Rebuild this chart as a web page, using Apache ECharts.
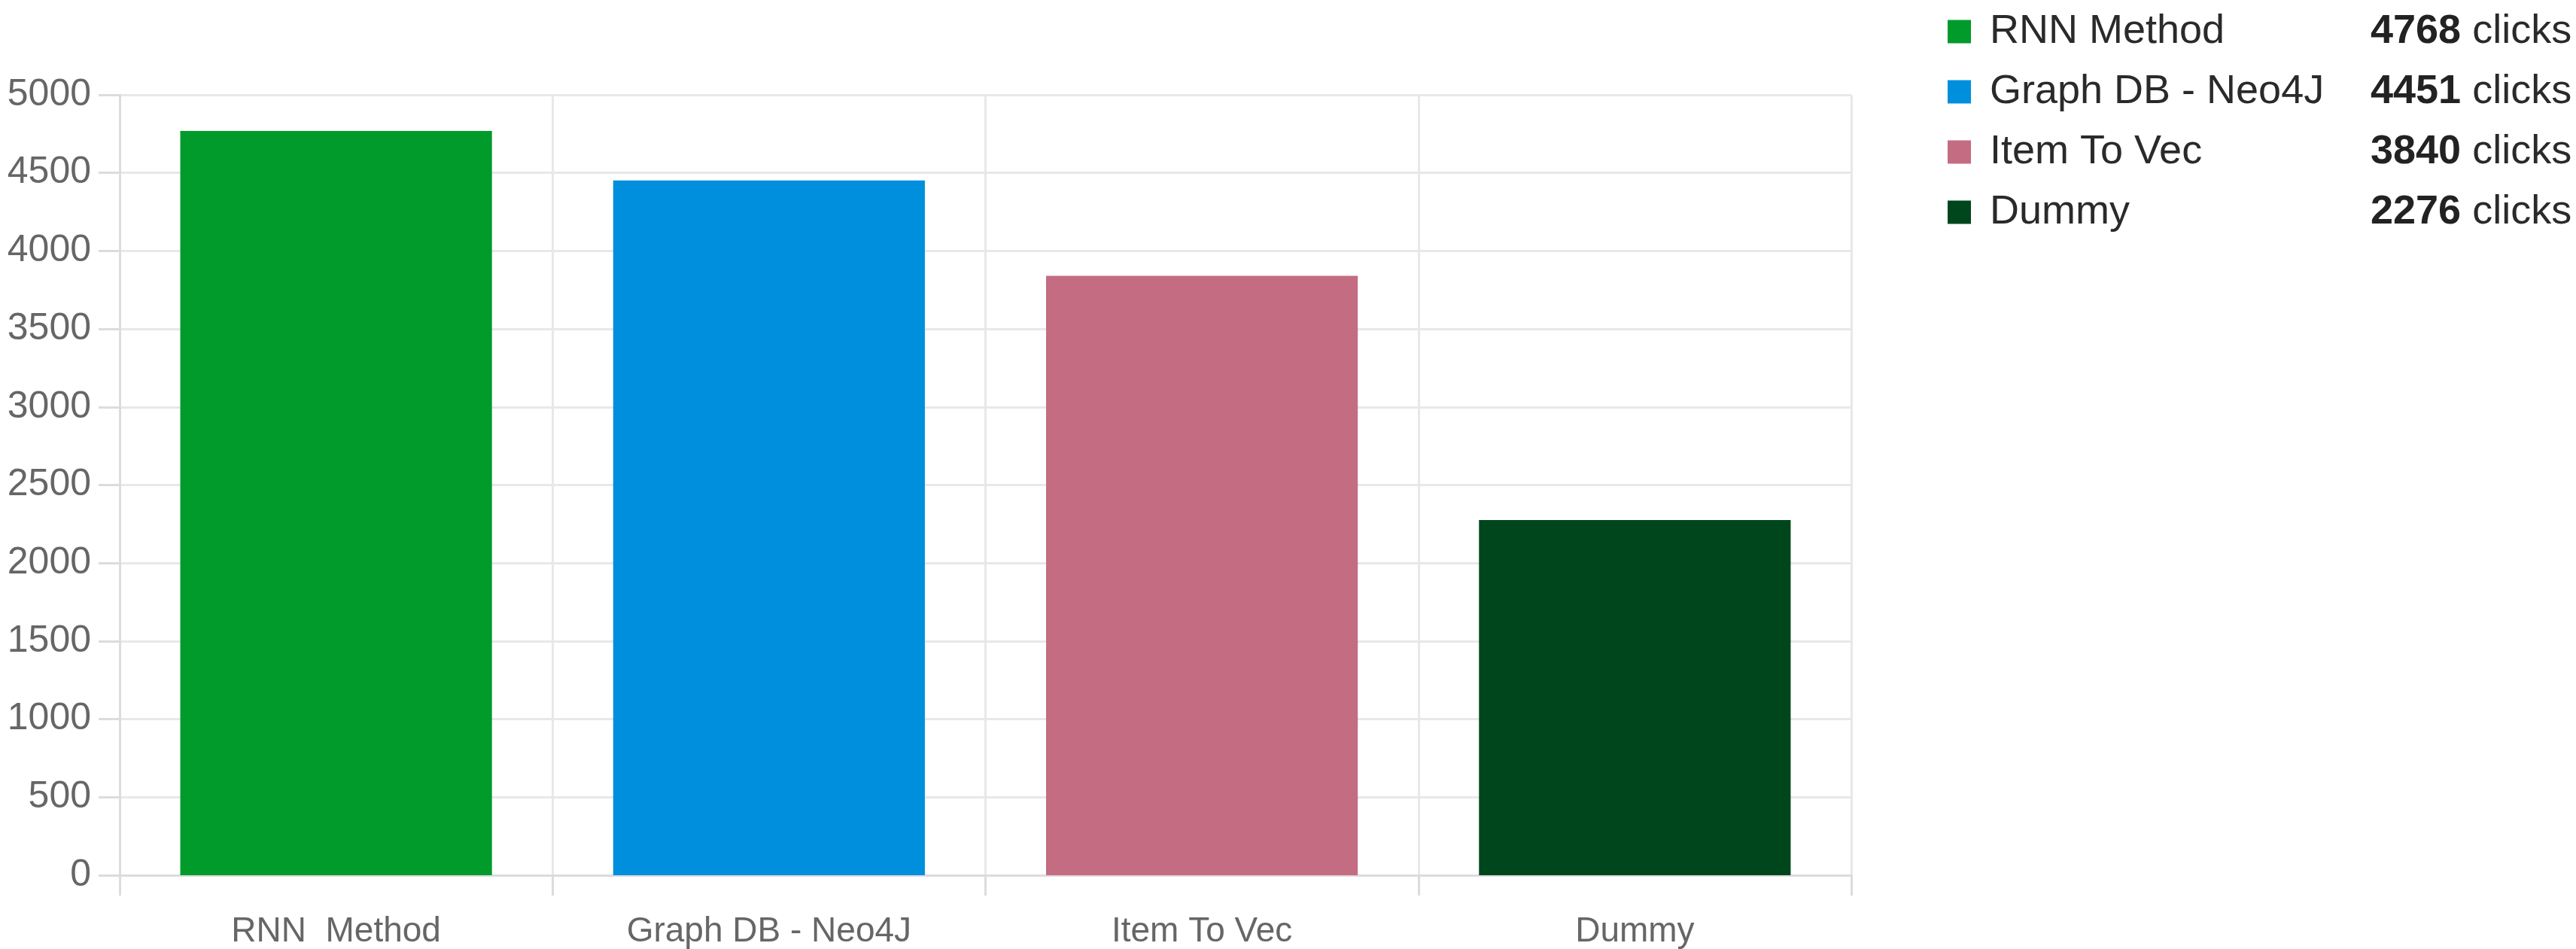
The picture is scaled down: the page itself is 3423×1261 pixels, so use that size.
<!DOCTYPE html>
<html>
<head>
<meta charset="utf-8">
<script src="https://cdn.jsdelivr.net/npm/echarts@6/dist/echarts.min.js"></script>
<style>
html,body{margin:0;padding:0;background:#fff;}
#chart{width:3423px;height:1261px;}
</style>
</head>
<body>
<div id="chart"></div>
<script>
const categories = ['RNN  Method', 'Graph DB - Neo4J', 'Item To Vec', 'Dummy'];
const legendNames = ['RNN Method', 'Graph DB - Neo4J', 'Item To Vec', 'Dummy'];
const clicks = [4768, 4451, 3840, 2276];
const colors = ['#009b2b', '#008fdd', '#c46c81', '#00461d'];
const yTicks = { min: 0, max: 5000, interval: 500 };

const FONT = "'Liberation Sans', Arial, sans-serif";
const chart = echarts.init(document.getElementById('chart'));

const series = legendNames.map((name, i) => ({
  name: name,
  type: 'bar',
  stack: 'all',
  barWidth: '72%',
  itemStyle: { color: colors[i] },
  data: categories.map((c, j) => (j === i ? clicks[i] : null))
}));

chart.setOption({
  animation: false,
  textStyle: { fontFamily: FONT },
  grid: { left: 159, right: 963, top: 126, bottom: 98, containLabel: false, outerBoundsMode: 'none' },
  legend: {
    orient: 'vertical',
    left: 2583,
    top: 10,
    itemWidth: 31,
    itemHeight: 31,
    itemGap: 26,
    icon: 'rect',
    selectedMode: false,
    data: legendNames,
    formatter: function (name) {
      const i = legendNames.indexOf(name);
      return '{n|' + name + '}{v|' + clicks[i] + '}{c| clicks}';
    },
    textStyle: {
      padding: [0, 0, 0, 20],
      rich: {
        n: { fontSize: 54, lineHeight: 54, color: '#2a2a2a', width: 506, fontFamily: FONT },
        v: { fontSize: 54, lineHeight: 54, color: '#222', fontWeight: 'bold', fontFamily: FONT },
        c: { fontSize: 54, lineHeight: 54, color: '#2a2a2a', fontFamily: FONT }
      }
    }
  },
  xAxis: {
    type: 'category',
    data: categories,
    axisLine: { show: true, lineStyle: { color: '#dcdcdc', width: 3 } },
    axisTick: { show: true, length: 27, lineStyle: { color: '#dcdcdc', width: 3 } },
    splitLine: { show: true, lineStyle: { color: '#e8e8e8', width: 3 } },
    axisLabel: { color: '#666', fontSize: 46, margin: 52, fontFamily: FONT }
  },
  yAxis: {
    type: 'value',
    min: yTicks.min,
    max: yTicks.max,
    interval: yTicks.interval,
    axisLine: { show: true, lineStyle: { color: '#dcdcdc', width: 3 } },
    axisTick: { show: true, length: 28, lineStyle: { color: '#dcdcdc', width: 3 } },
    splitLine: { show: true, lineStyle: { color: '#e8e8e8', width: 3 } },
    axisLabel: { color: '#666', fontSize: 50, margin: 38, fontFamily: FONT, formatter: function (v) { return String(v); } }
  },
  series: series
});
</script>
</body>
</html>
